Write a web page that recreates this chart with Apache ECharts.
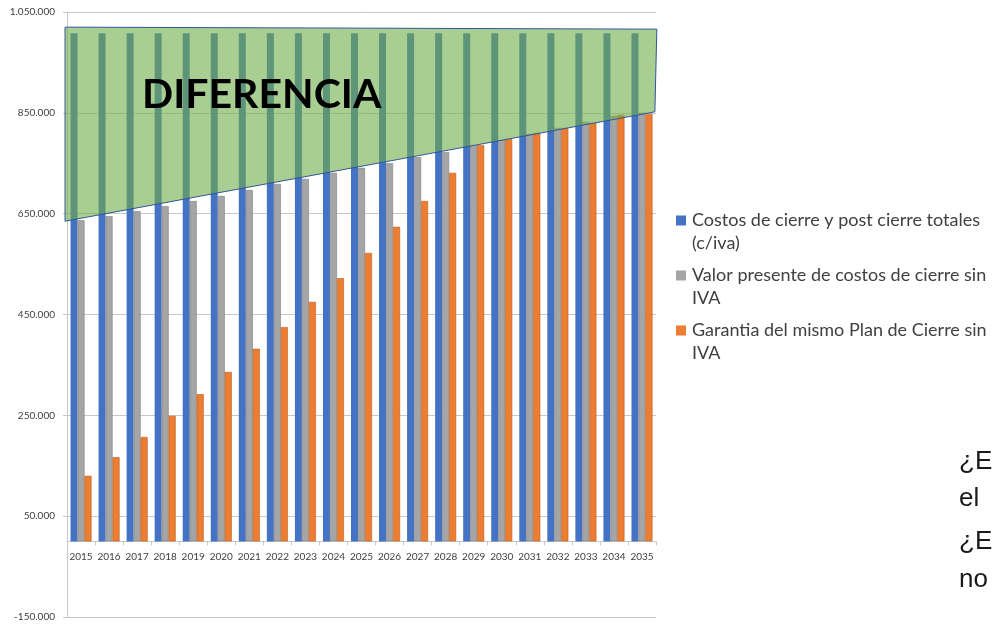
<!DOCTYPE html>
<html>
<head>
<meta charset="utf-8">
<script src="https://cdn.jsdelivr.net/npm/echarts@6/dist/echarts.min.js"></script>
<style>
html,body{margin:0;padding:0;background:#fff;}
#chart{width:994px;height:624px;}
</style>
</head>
<body>
<div id="chart"></div>
<script>
const years = ['2015','2016','2017','2018','2019','2020','2021','2022','2023','2024','2025','2026','2027','2028','2029','2030','2031','2032','2033','2034','2035'];
const costosTotales = [1008000,1008000,1008000,1008000,1008000,1008000,1008000,1008000,1008000,1008000,1008000,1008000,1008000,1008000,1008000,1008000,1008000,1008000,1008000,1008000,1008000];
const valorPresente = [637000,645000,655000,665000,675000,685000,697000,709000,719000,731000,741000,750000,762000,772000,786000,796000,808000,820000,832000,844000,850000];
const garantia = [130000,167000,207000,249000,292000,336000,382000,425000,475000,522000,572000,624000,675000,731000,786000,798000,810000,820000,830000,846000,848000];
const seriesNames = ['Costos de cierre y post cierre totales (c/iva)','Valor presente de costos de cierre sin IVA','Garantia del mismo Plan de Cierre sin IVA'];
const legendLabels = ['Costos de cierre y post cierre totales\n(c/iva)','Valor presente de costos de cierre sin\nIVA','Garantia del mismo Plan de Cierre sin\nIVA'];
// "DIFERENCIA" band outline, in (category position, value) units
const diferenciaX = [-0.57, 20.53, 20.46, -0.57];
const diferenciaY = [1020000, 1016000, 852000, 635000];
const annotation = 'DIFERENCIA';
const sideText = ['¿E','el','¿E','no'];
const yMin = -150000, yMax = 1050000, yStep = 200000;

const fmt = v => String(v).replace(/\B(?=(\d{3})+(?!\d))/g, '.');
const chart = echarts.init(document.getElementById('chart'));
const font = 'Lato, "Noto Sans", sans-serif';
const gridColor = '#C8C8C8';
const gridTop = 12, gridBottom = 7, H = 624;
const gridH = H - gridTop - gridBottom;
const zeroOffset = -gridH * (0 - yMin) / (yMax - yMin);

chart.setOption({
  animation: false,
  textStyle: {fontFamily: font},
  grid: {left: 67, right: 338, top: gridTop, bottom: gridBottom, containLabel: false, outerBoundsMode: 'none'},
  legend: {
    orient: 'vertical', left: 676, top: 209, padding: 0,
    itemWidth: 10, itemHeight: 33, itemGap: 9,
    icon: 'path://M0,0L10,0L10,10L0,10Z M0,33L0.01,33L0.01,33.01Z',
    itemStyle: {borderWidth: 0},
    data: seriesNames,
    formatter: name => legendLabels[seriesNames.indexOf(name)],
    textStyle: {fontFamily: font, fontSize: 18, lineHeight: 23, color: '#404040', padding: [0,0,0,1]}
  },
  xAxis: [{
    type: 'category', data: years, offset: zeroOffset,
    axisLine: {onZero: false, lineStyle: {color: gridColor}},
    axisTick: {show: true, length: 4, lineStyle: {color: gridColor}},
    axisLabel: {fontFamily: font, fontSize: 10, color: '#404040', margin: 10, interval: 0}
  }, {
    type: 'value', min: -0.5, max: 20.5, show: false
  }],
  yAxis: {
    type: 'value', min: yMin, max: yMax, interval: yStep,
    axisLine: {show: true, onZero: false, lineStyle: {color: gridColor}},
    axisTick: {show: true, length: 4, lineStyle: {color: gridColor}},
    splitLine: {lineStyle: {color: gridColor}},
    axisLabel: {fontFamily: font, fontSize: 10, color: '#404040', margin: 12, formatter: fmt}
  },
  graphic: [
    {type: 'text', left: 142, top: 74, z: 100, style: {text: annotation, fontFamily: font, fontWeight: 'bold', fontSize: 41, fill: '#000'}},
    {type: 'text', left: 959, top: 449, style: {text: sideText[0], fontFamily: '"Liberation Sans", Arial, sans-serif', fontSize: 26, fill: '#1a1a1a'}},
    {type: 'text', left: 959, top: 486, style: {text: sideText[1], fontFamily: '"Liberation Sans", Arial, sans-serif', fontSize: 26, fill: '#1a1a1a'}},
    {type: 'text', left: 959, top: 529, style: {text: sideText[2], fontFamily: '"Liberation Sans", Arial, sans-serif', fontSize: 26, fill: '#1a1a1a'}},
    {type: 'text', left: 959, top: 567, style: {text: sideText[3], fontFamily: '"Liberation Sans", Arial, sans-serif', fontSize: 26, fill: '#1a1a1a'}}
  ],
  series: [
    {name: seriesNames[0], type: 'bar', data: costosTotales, barWidth: 7, barGap: '0%',
     itemStyle: {color: '#4472C4'}},
    {name: seriesNames[1], type: 'bar', data: valorPresente, barWidth: 7,
     itemStyle: {color: '#A5A5A5', borderColor: '#7F7F7F', borderWidth: 0.6}},
    {name: seriesNames[2], type: 'bar', data: garantia, barWidth: 7,
     itemStyle: {color: '#ED7D31', borderColor: '#B85F22', borderWidth: 0.6}},
    {type: 'custom', xAxisIndex: 1, yAxisIndex: 0, z: 10, silent: true,
     data: [[diferenciaX[0], diferenciaY[0]]],
     renderItem: function (params, api) {
       const pts = diferenciaX.map((x, i) => api.coord([x, diferenciaY[i]]));
       return {type: 'polygon', shape: {points: pts},
         style: {fill: 'rgba(112,173,71,0.6)', stroke: '#2F5597', lineWidth: 1}};
     }}
  ]
});
</script>
</body>
</html>
